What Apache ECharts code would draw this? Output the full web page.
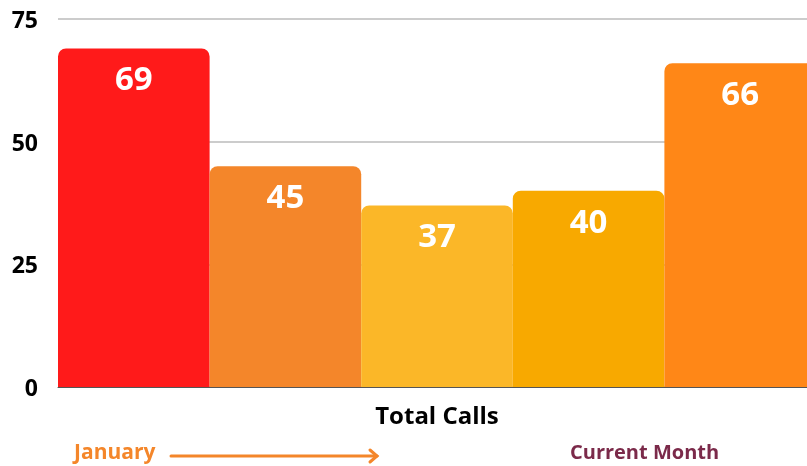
<!DOCTYPE html>
<html>
<head>
<meta charset="utf-8">
<script src="https://cdn.jsdelivr.net/npm/echarts@6/dist/echarts.min.js"></script>
<style>html,body{margin:0;padding:0;background:#fff;overflow:hidden;width:807px;height:466px}#c{width:816px;height:466px}</style>
</head>
<body>
<div id="c"></div>
<script>
const categories = ['Total Calls'];
const seriesNames = ['Month 1', 'Month 2', 'Month 3', 'Month 4', 'Month 5'];
const seriesValues = [69, 45, 37, 40, 66];
const yTicks = [0, 25, 50, 75];
const colors = ['#FF1A1A', '#F4862A', '#FBB728', '#F8A900', '#FF8717'];
const footerLeft = 'January';
const footerRight = 'Current Month';

const chart = echarts.init(document.getElementById('c'));
const font = '"Open Sans", "DejaVu Sans", sans-serif';
chart.setOption({
  animation: false,
  grid: { left: 58, top: 19, right: 0, height: 368 },
  xAxis: {
    type: 'category',
    data: categories,
    axisLine: { show: true, lineStyle: { color: '#555', width: 1 } },
    axisTick: { show: false },
    axisLabel: { color: '#000', fontSize: 24, fontWeight: 'bold', fontFamily: font, margin: 18 }
  },
  yAxis: {
    type: 'value',
    min: yTicks[0],
    max: yTicks[yTicks.length - 1],
    interval: yTicks[1] - yTicks[0],
    axisLine: { show: false },
    axisTick: { show: false },
    splitLine: { lineStyle: { color: '#BBBBBB', width: 1.5 } },
    axisLabel: {
      margin: 20,
      formatter: '{a|{value}}',
      rich: { a: { color: '#000', fontSize: 23, fontWeight: 'bold', fontFamily: font, padding: [5, 0, 0, 0] } }
    }
  },
  series: seriesValues.map((v, i) => ({
    name: seriesNames[i],
    type: 'bar',
    data: [v],
    barGap: '0%',
    barCategoryGap: '0%',
    itemStyle: { color: colors[i], borderRadius: [8, 8, 0, 0] },
    label: {
      show: true,
      position: 'insideTop',
      distance: 16,
      color: '#fff',
      fontSize: 33,
      fontWeight: 'bold',
      fontFamily: font
    }
  })),
  graphic: [
    { type: 'text', left: 74, top: 443, style: { text: footerLeft, fill: '#F4862A', font: 'bold 21px ' + font } },
    { type: 'line', shape: { x1: 171, y1: 456, x2: 377, y2: 456 }, style: { stroke: '#F4862A', lineWidth: 3, lineCap: 'round' } },
    { type: 'polyline', shape: { points: [[370, 450], [377, 456], [370, 462]] }, style: { stroke: '#F4862A', lineWidth: 3, lineCap: 'round', fill: null } },
    { type: 'text', left: 570, top: 443, style: { text: footerRight, fill: '#7B2A4A', font: 'bold 20px ' + font } }
  ]
});
</script>
</body>
</html>
